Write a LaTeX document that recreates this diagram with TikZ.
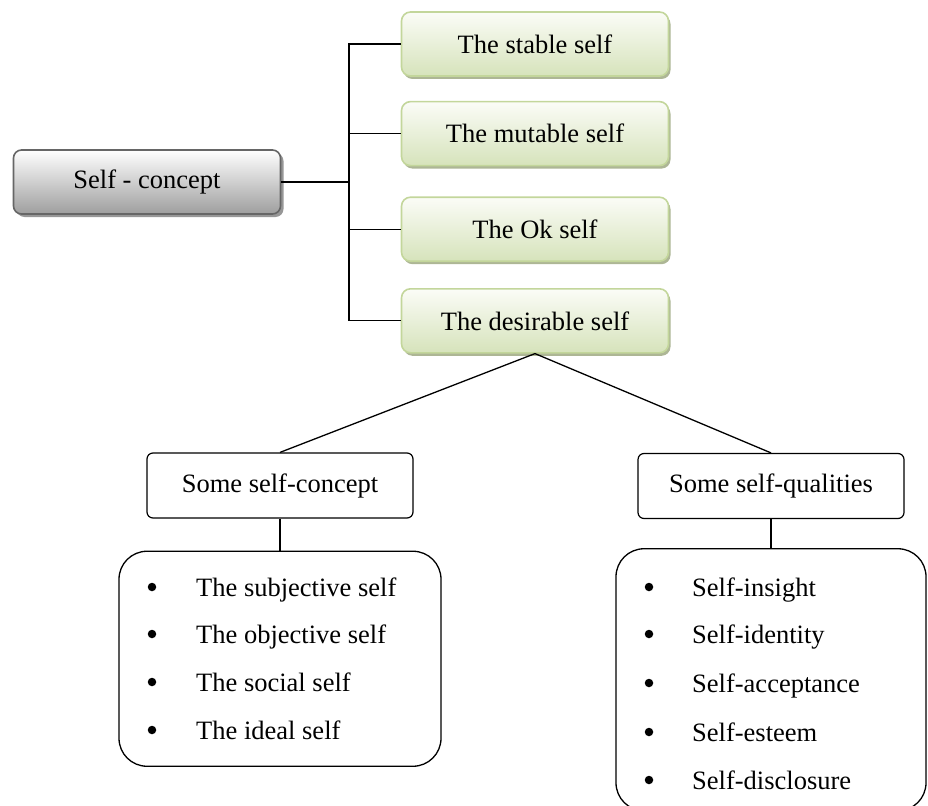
\documentclass[tikz,border=0pt]{standalone}
\usepackage{fontspec}
\setmainfont{Liberation Serif}
\usepackage{tikz}
\usetikzlibrary{shadows,positioning,calc}
\usepackage{xcolor}
\definecolor{leafline}{HTML}{C3D69B}
\definecolor{leaftop}{HTML}{FBFCF7}
\definecolor{leafbottom}{HTML}{D6E3BB}
\definecolor{leafshadow}{HTML}{A4AE8A}
\tikzset{
        rootbox/.style = {draw=black!60, line width=1.6pt, rounded corners=8pt,
            top color=white, bottom color=black!38,
            minimum width=267pt, minimum height=64pt,
            drop shadow={shadow xshift=3pt, shadow yshift=-3pt, fill=black!45, opacity=.9}},
        leafbox/.style = {draw=leafline, line width=1.6pt, rounded corners=9pt,
            top color=leaftop, bottom color=leafbottom,
            minimum width=267pt, minimum height=64pt,
            drop shadow={shadow xshift=2pt, shadow yshift=-3pt, fill=leafshadow, opacity=.9}},
        headbox/.style = {draw, line width=1.2pt, rounded corners=6pt, fill=white,
            minimum width=266pt, minimum height=65pt},
        listbox/.style = {draw, line width=1.3pt, rounded corners=28pt},
        bullet/.style = {circle, fill, inner sep=0pt, minimum size=8.5pt},
        entry/.style = {anchor=base west, inner sep=0pt},
        link/.style = {draw, line width=1.3pt},
    }

\begin{document}
\begin{tikzpicture}[x=1pt, y=-1pt, font=\fontsize{26.5}{32}\selectfont]
                \useasboundingbox (0,0) rectangle (928,805);
                \clip (0,0) rectangle (928,805);

                \node[rootbox] (concept) at (147,182) {Self - concept};

                \node[leafbox] (stable) at (535,44) {The stable self};
                \node[leafbox, below=24pt of stable] (mutable) {The mutable self};
                \node[leafbox, below=30pt of mutable] (ok) {The Ok self};
                \node[leafbox, below=26pt of ok] (desirable) {The desirable self};

                \coordinate (trunk) at (349,182);

                \node[headbox] (concepts) at (280,485.5) {Some self-concept};
                \node[headbox] (qualities) at (771,486) {Some self-qualities};

                \node[listbox, minimum width=322pt, minimum height=215pt,
                      below=32pt of concepts] (conceptlist) {};
                \node[listbox, minimum width=310pt, minimum height=262pt,
                      below=29pt of qualities] (qualitylist) {};

                % left list
                \node[bullet] (c1) at (152,587) {};
                \node[bullet] (c2) at (152,634) {};
                \node[bullet] (c3) at (152,682) {};
                \node[bullet] (c4) at (152,730) {};
                \node[entry] (c1t) at (196,596) {The subjective self};
                \node[entry] (c2t) at (196,643) {The objective self};
                \node[entry] (c3t) at (196,691) {The social self};
                \node[entry] (c4t) at (196,739) {The ideal self};

                % right list
                \node[bullet] (q1) at (649,587) {};
                \node[bullet] (q2) at (649,634) {};
                \node[bullet] (q3) at (649,683) {};
                \node[bullet] (q4) at (649,732) {};
                \node[bullet] (q5) at (649,780) {};
                \node[entry] (q1t) at (692,596) {Self-insight};
                \node[entry] (q2t) at (692,643) {Self-identity};
                \node[entry] (q3t) at (692,692) {Self-acceptance};
                \node[entry] (q4t) at (692,741) {Self-esteem};
                \node[entry] (q5t) at (692,789) {Self-disclosure};

                \path[link] (concept.east) -- (trunk);
                \path[link] (stable.west) -- (stable.west -| trunk)
                      -- (desirable.west -| trunk) -- (desirable.west);
                \path[link] (mutable.west) -- (mutable.west -| trunk);
                \path[link] (ok.west) -- (ok.west -| trunk);

                \path[link] (desirable.south) -- (concepts.north);
                \path[link] (desirable.south) -- (qualities.north);
                \path[link] (concepts.south) -- (concepts.south |- conceptlist.north);
                \path[link] (qualities.south) -- (qualities.south |- qualitylist.north);
            \end{tikzpicture}
\end{document}
